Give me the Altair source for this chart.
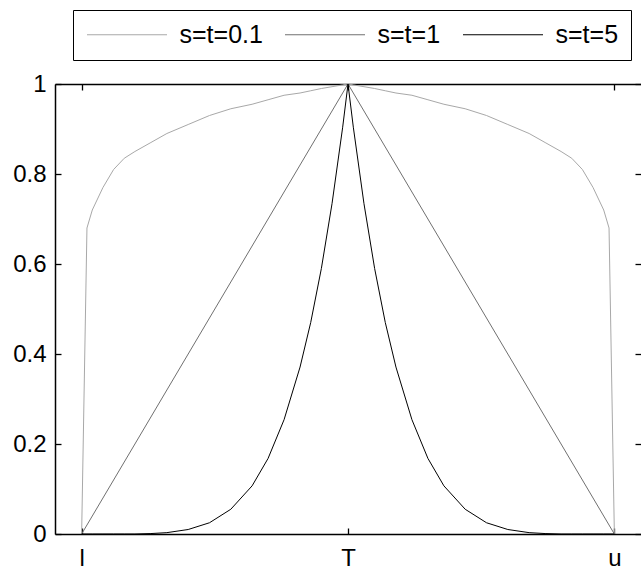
import altair as alt
import pandas as pd

# positions along the axis: l = 0, T = 0.5, u = 1
xs = [0, 0.01, 0.02, 0.04, 0.06, 0.08, 0.10, 0.13, 0.16, 0.20, 0.24, 0.28, 0.32, 0.35,
      0.38, 0.41, 0.43, 0.45, 0.47, 0.49, 0.50,
      0.51, 0.53, 0.55, 0.57, 0.59, 0.62, 0.65, 0.68, 0.72, 0.76, 0.80, 0.84, 0.87,
      0.90, 0.92, 0.94, 0.96, 0.98, 0.99, 1.0]

y_01 = [0, 0.68, 0.72, 0.77, 0.81, 0.835, 0.85, 0.87, 0.89, 0.91, 0.93, 0.945, 0.955, 0.965,
        0.975, 0.98, 0.985, 0.99, 0.994, 0.998, 1.0,
        0.998, 0.994, 0.99, 0.985, 0.98, 0.975, 0.965, 0.955, 0.945, 0.93, 0.91, 0.89, 0.87,
        0.85, 0.835, 0.81, 0.77, 0.72, 0.68, 0]

y_1 = [0, 0.02, 0.04, 0.08, 0.12, 0.16, 0.20, 0.26, 0.32, 0.40, 0.48, 0.56, 0.64, 0.70,
       0.76, 0.82, 0.86, 0.90, 0.94, 0.98, 1.0,
       0.98, 0.94, 0.90, 0.86, 0.82, 0.76, 0.70, 0.64, 0.56, 0.48, 0.40, 0.32, 0.26,
       0.20, 0.16, 0.12, 0.08, 0.04, 0.02, 0]

y_5 = [0, 0, 0, 0, 0, 0, 0, 0.001, 0.003, 0.01, 0.025, 0.055, 0.107, 0.168,
       0.254, 0.371, 0.47, 0.59, 0.734, 0.904, 1.0,
       0.904, 0.734, 0.59, 0.47, 0.371, 0.254, 0.168, 0.107, 0.055, 0.025, 0.01, 0.003, 0.001,
       0, 0, 0, 0, 0, 0, 0]

series_names = ["s=t=0.1", "s=t=1", "s=t=5"]
series_colors = ["#a8a8a8", "#707070", "#000000"]

x_tick_values = [0, 0.5, 1]
x_tick_labels = ["l", "T", "u"]
y_tick_values = [0, 0.2, 0.4, 0.6, 0.8, 1.0]

rows = []
for name, ys in zip(series_names, [y_01, y_1, y_5]):
    for xv, yv in zip(xs, ys):
        rows.append({"x": xv, "y": yv, "series": name})
df = pd.DataFrame(rows)

FONT = "Liberation Sans"
x_scale = alt.Scale(domain=[-0.05, 1.05], nice=False, zero=False)
y_scale = alt.Scale(domain=[0, 1], nice=False, zero=False)

label_expr = " : ".join(
    [f"datum.value == {v} ? '{t}'" for v, t in zip(x_tick_values, x_tick_labels)]
) + " : ''"

common = dict(grid=False, title=None, domainColor="black", tickColor="black",
              labelColor="black", labelFont=FONT, labelFontSize=24)

base = alt.Chart(df)

lines = base.mark_line(strokeWidth=1).encode(
    x=alt.X("x:Q", scale=x_scale,
            axis=alt.Axis(orient="bottom", values=x_tick_values, labelExpr=label_expr,
                          ticks=False, tickSize=0, domain=True, domainWidth=1.5,
                          labelPadding=12, **common)),
    y=alt.Y("y:Q", scale=y_scale,
            axis=alt.Axis(orient="left", values=y_tick_values, format="~g",
                          ticks=False, tickSize=0, domain=True, domainWidth=1.5,
                          labelPadding=9, **common)),
    color=alt.Color("series:N",
                    scale=alt.Scale(domain=series_names, range=series_colors),
                    legend=alt.Legend(orient="none", legendX=18, legendY=-74,
                                      direction="horizontal", title=None,
                                      symbolType="M-4,0L4,0", symbolSize=400,
                                      symbolOffset=29.5, symbolStrokeWidth=1,
                                      labelFont=FONT, labelFontSize=25, labelColor="black",
                                      labelOffset=40, columnPadding=20, padding=12,
                                      strokeColor="black", fillColor="white")),
)

tick_common = dict(grid=False, title=None, domain=False, labels=False, ticks=True,
                   tickSize=6, tickWidth=1.3, tickColor="black", offset=-6)

inner_bl = base.mark_line(opacity=0).encode(
    x=alt.X("x:Q", scale=x_scale, axis=alt.Axis(orient="bottom", values=x_tick_values, **tick_common)),
    y=alt.Y("y:Q", scale=y_scale, axis=alt.Axis(orient="left", values=y_tick_values, **tick_common)),
    detail="series:N",
)

top_right = base.mark_line(opacity=0).encode(
    x=alt.X("x:Q", scale=x_scale,
            axis=alt.Axis(orient="top", values=x_tick_values, ticks=False, tickSize=0,
                          labels=False, domain=True, domainWidth=1.5, domainColor="black",
                          grid=False, title=None)),
    y=alt.Y("y:Q", scale=y_scale, axis=alt.Axis(orient="right", values=y_tick_values, **tick_common)),
    detail="series:N",
)

inner_top = base.mark_line(opacity=0).encode(
    x=alt.X("x:Q", scale=x_scale, axis=alt.Axis(orient="top", values=x_tick_values, **tick_common)),
    y=alt.Y("y:Q", scale=y_scale, axis=None),
    detail="series:N",
)

chart = (
    alt.layer(lines, inner_bl, top_right, inner_top)
    .resolve_axis(x="independent", y="independent")
    .properties(width=586, height=450, autosize="none",
                padding={"left": 55, "top": 84, "right": 0, "bottom": 35},
                background="white")
    .configure_view(stroke=None)
)

chart.save("out.html", embed_options={"renderer": "svg", "actions": False})
